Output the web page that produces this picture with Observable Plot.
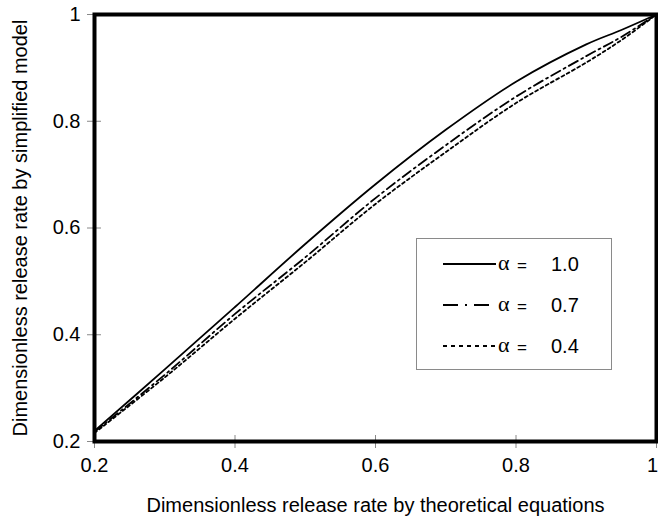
<!DOCTYPE html>
<html><head><meta charset="utf-8">
<script src="https://cdn.jsdelivr.net/npm/d3@7"></script>
<script src="https://cdn.jsdelivr.net/npm/@observablehq/plot@0.6"></script>
<style>
body{margin:0;background:#fff;}
#wrap{position:relative;width:658px;height:528px;font-family:"Liberation Sans",Arial,sans-serif;}
#legend{position:absolute;left:416px;top:238px;width:194px;height:130px;border:1px solid #8a8a8a;background:#fff;}
</style></head><body><div id="wrap"></div>
<script>
const xs      = [0.2, 0.3, 0.4, 0.5, 0.6, 0.7, 0.8, 0.9, 0.95, 1.0];
const alpha10 = [0.220, 0.335, 0.452, 0.570, 0.682, 0.784, 0.874, 0.944, 0.971, 1.0];
const alpha07 = [0.218, 0.325, 0.439, 0.545, 0.656, 0.755, 0.846, 0.922, 0.958, 1.0];
const alpha04 = [0.216, 0.320, 0.430, 0.536, 0.645, 0.742, 0.834, 0.910, 0.952, 1.0];
const seriesNames = ["1.0", "0.7", "0.4"];
const xTicks = [0.2, 0.4, 0.6, 0.8, 1];
const yTicks = [0.2, 0.4, 0.6, 0.8, 1];
const xLabel = "Dimensionless release rate by theoretical equations";
const yLabel = "Dimensionless release rate by simplified model";

const dashes = {"1.0": null, "0.7": "10,4,2,4", "0.4": "3,3"};
const seriesVals = {"1.0": alpha10, "0.7": alpha07, "0.4": alpha04};
const rows = seriesNames.flatMap(s => xs.map((x, i) => ({series: s, x, y: seriesVals[s][i]})));

const W = 658, H = 528, mL = 94, mR = 2, mT = 14, mB = 87;
const fw = W - mL - mR, fh = H - mT - mB;
const fmt = d => d === 1 ? "1" : d.toFixed(1);
const FS = 20;

const lineMarks = seriesNames.map(s => Plot.line(rows.filter(r => r.series === s), {
  x: "x", y: "y", stroke: "black", strokeWidth: 1.8, curve: "catmull-rom",
  strokeDasharray: dashes[s]
}));

const chart = Plot.plot({
  width: W, height: H,
  marginLeft: mL, marginRight: mR, marginTop: mT, marginBottom: mB,
  style: {fontFamily: '"Liberation Sans", Arial, sans-serif', fontSize: FS + "px", color: "black", background: "white"},
  x: {domain: [0.2, 1]},
  y: {domain: [0.2, 1]},
  marks: [
    Plot.ruleX(xTicks, {x: d => d, insetTop: fh - 6, stroke: "#888", strokeWidth: 1}),
    Plot.ruleY(yTicks, {y: d => d, insetRight: fw - 7, stroke: "#888", strokeWidth: 1}),
    Plot.axisX(xTicks, {tickSize: 7, tickPadding: 9, stroke: "#888", fill: "black",
      tickFormat: d => d === 1 ? "" : fmt(d), label: null, fontSize: FS}),
    Plot.text(xTicks.filter(d => d === 1), {x: d => d, frameAnchor: "bottom", dy: 16, dx: -4,
      lineAnchor: "top", text: fmt, fontSize: FS, fill: "black"}),
    Plot.axisY(yTicks, {tickSize: 7, tickPadding: 7, stroke: "#888", fill: "black", tickFormat: fmt, label: null, fontSize: FS}),
    ...lineMarks,
    Plot.frame({stroke: "black", strokeWidth: 4}),
    Plot.text([xLabel], {frameAnchor: "bottom", dy: 70, text: d => d, fontSize: FS, fill: "black"}),
    Plot.text([yLabel], {frameAnchor: "left", dx: -74, rotate: -90, textAnchor: "middle", text: d => d, fontSize: FS, fill: "black"})
  ]
});

const wrap = document.getElementById("wrap");
wrap.appendChild(chart);

// legend
const leg = document.createElement("div");
leg.id = "legend";
const ns = "http://www.w3.org/2000/svg";
const svg = document.createElementNS(ns, "svg");
svg.setAttribute("width", 194); svg.setAttribute("height", 130);
seriesNames.forEach((s, i) => {
  const y = 25 + i * 41;
  const ln = document.createElementNS(ns, "line");
  ln.setAttribute("x1", 26); ln.setAttribute("x2", 79);
  ln.setAttribute("y1", y); ln.setAttribute("y2", y);
  ln.setAttribute("stroke", "black"); ln.setAttribute("stroke-width", 1.8);
  if (dashes[s]) ln.setAttribute("stroke-dasharray", s === "0.7" ? "15,7,2,7" : "4,4");
  svg.appendChild(ln);
  const t1 = document.createElementNS(ns, "text");
  t1.setAttribute("x", 81); t1.setAttribute("y", y + 6);
  t1.setAttribute("font-size", 22); t1.textContent = "α";
  t1.setAttribute("font-family", '"Liberation Serif", serif');
  svg.appendChild(t1);
  const t2 = document.createElementNS(ns, "text");
  t2.setAttribute("x", 105); t2.setAttribute("y", y + 7);
  t2.setAttribute("text-anchor", "middle");
  t2.setAttribute("font-size", 17); t2.textContent = "=";
  svg.appendChild(t2);
  const t3 = document.createElementNS(ns, "text");
  t3.setAttribute("x", 134); t3.setAttribute("y", y + 7);
  t3.setAttribute("font-size", FS); t3.textContent = s;
  svg.appendChild(t3);
});
svg.style.fontFamily = '"Liberation Sans", Arial, sans-serif';
leg.appendChild(svg);
wrap.appendChild(leg);
</script></body></html>
